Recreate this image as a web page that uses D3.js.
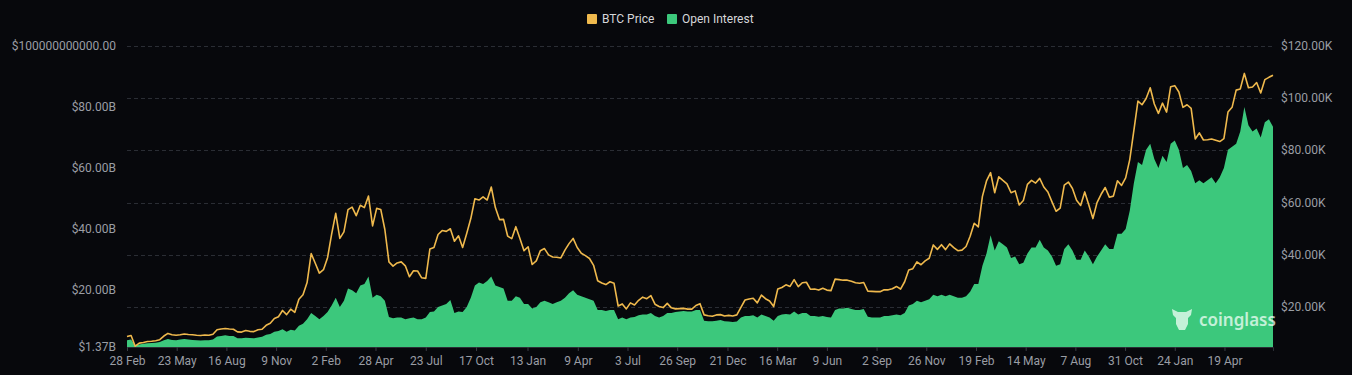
<!DOCTYPE html>
<html lang="en">
  <head>
    <meta charset="UTF-8">
    <title>BTC Price vs Open Interest</title>
    <script src="https://cdn.jsdelivr.net/npm/d3@7"></script>
    <style>
      html, body {
        margin: 0;
        padding: 0;
        background: #07080c;
      }
      body {
        font-family: Roboto, 'Noto Sans', Arial, sans-serif;
      }
      svg {
        display: block;
      }
    </style>
  </head>
  <body>
    <svg id="chart" width="1352" height="375"></svg>
    <script>
      // weekly samples (Fridays) starting 28 Feb 2020, last one is the chart end
      const startDate = "2020-02-28";
      const stepDays = 7;

      // BTC price, thousands of USD
      const price2020 = [8.7, 9.1, 5.0, 6.2, 6.4, 6.8, 6.9, 7.1, 7.5, 8.9, 9.9, 9.4, 9.2, 9.4, 9.7, 9.5, 9.4, 9.2, 9.1, 9.3, 9.2, 9.6, 11.3, 11.6, 11.8, 11.6, 11.5, 10.5, 10.4, 11.0, 10.7, 10.6, 11.3, 11.5, 13.0, 13.8, 15.6, 16.3, 18.7, 17.1, 19.2, 18.0, 23.0, 24.7];
      const price2021 = [29.4, 40.5, 36.8, 33.0, 34.3, 38.9, 47.9, 55.9, 46.3, 48.8, 57.3, 58.3, 55.0, 59.0, 58.1, 62.5, 51.1, 57.8, 57.4, 49.7, 37.3, 35.7, 36.9, 37.3, 35.8, 31.6, 33.9, 33.8, 31.2, 31.0, 42.2, 42.8, 47.8, 49.3, 49.0, 50.0, 45.2, 47.3, 42.8, 48.2, 53.9, 61.5, 61.0, 62.2, 61.0, 66.0, 58.1, 53.5, 53.6, 47.2, 46.2, 50.8, 46.3];
      const price2022 = [41.6, 43.1, 36.3, 37.7, 41.6, 42.4, 40.0, 39.2, 39.1, 38.8, 41.8, 44.3, 46.3, 42.8, 40.6, 39.7, 38.6, 36.0, 30.1, 29.2, 28.6, 29.7, 29.1, 20.4, 21.2, 19.3, 21.6, 20.8, 22.6, 23.8, 23.2, 24.4, 21.1, 20.2, 19.8, 21.4, 19.7, 19.3, 19.4, 19.5, 19.2, 19.2, 20.6, 21.3, 17.0, 16.7, 16.5, 17.0, 17.1, 16.6, 16.8, 16.6];
      const price2023 = [17.0, 19.9, 22.7, 23.1, 23.4, 21.6, 24.6, 23.2, 22.3, 20.2, 26.9, 27.5, 28.5, 27.9, 30.5, 27.8, 29.3, 29.5, 26.8, 26.9, 26.5, 27.2, 26.5, 26.3, 30.7, 30.5, 30.3, 30.3, 29.9, 29.3, 29.1, 29.4, 26.1, 26.0, 25.9, 25.9, 26.6, 26.6, 27.0, 27.9, 26.9, 29.7, 34.2, 34.7, 37.3, 36.2, 37.7, 38.7, 43.8, 42.1, 43.9, 42.0];
      const price2024 = [44.2, 42.8, 41.6, 41.8, 43.2, 47.1, 52.1, 50.7, 62.4, 68.3, 71.5, 63.8, 69.9, 68.5, 67.2, 63.8, 64.5, 59.1, 60.8, 67.0, 68.5, 67.5, 69.3, 66.0, 64.1, 60.3, 56.7, 57.9, 66.7, 67.9, 65.4, 60.9, 58.9, 64.1, 59.1, 53.9, 60.0, 63.2, 65.8, 62.1, 62.5, 68.4, 66.6, 69.5, 76.5, 87.6, 98.9, 97.5, 99.9, 104.0, 97.8, 94.2];
      const price2025 = [98.1, 94.7, 104.4, 104.8, 102.4, 96.5, 97.5, 96.1, 84.4, 86.7, 84.0, 84.1, 84.4, 83.9, 83.4, 84.5, 94.7, 96.5, 103.1, 103.5, 109.5, 104.0, 104.3, 106.0, 102.0, 107.1, 108.0, 108.8];

      // open interest, billions of USD
      const oi2020 = [3.6, 3.8, 1.9, 2.2, 2.4, 2.6, 2.7, 2.8, 3.0, 3.6, 4.0, 3.7, 3.6, 3.8, 4.0, 3.8, 3.7, 3.6, 3.5, 3.6, 3.6, 3.8, 4.8, 5.0, 5.2, 5.0, 5.0, 4.2, 4.2, 4.4, 4.3, 4.2, 4.5, 4.7, 5.4, 5.6, 6.4, 6.6, 7.2, 6.4, 7.0, 6.8, 8.3, 9.0];
      const oi2021 = [10.5, 12.5, 11.5, 10.5, 11.5, 12.8, 15.0, 17.5, 14.5, 16.5, 20.5, 20.0, 19.0, 21.5, 22.0, 24.5, 17.5, 18.5, 18.0, 16.5, 11.2, 10.8, 11.0, 11.0, 10.5, 10.8, 11.0, 10.5, 10.5, 11.0, 12.8, 13.0, 14.5, 15.0, 15.5, 16.8, 12.5, 13.0, 12.8, 14.5, 17.5, 21.5, 22.5, 22.0, 23.0, 24.5, 21.5, 21.0, 20.5, 16.5, 16.5, 18.0, 17.5];
      const oi2022 = [15.5, 15.5, 14.0, 14.5, 16.0, 16.5, 16.0, 15.5, 16.0, 16.5, 17.5, 19.0, 20.0, 18.5, 18.0, 17.5, 17.0, 16.5, 13.5, 13.5, 13.2, 13.5, 13.5, 10.5, 11.0, 10.5, 11.0, 11.2, 11.8, 12.0, 12.0, 12.5, 11.5, 11.0, 11.5, 12.5, 12.5, 12.8, 13.0, 13.2, 13.0, 13.0, 13.5, 13.5, 10.0, 9.8, 9.8, 10.0, 10.2, 9.8, 9.7, 9.6];
      const oi2023 = [9.7, 11.0, 11.5, 11.5, 11.8, 11.0, 12.0, 11.5, 11.0, 10.0, 11.5, 12.0, 12.2, 12.0, 13.0, 12.0, 12.5, 12.5, 11.5, 11.5, 11.3, 11.5, 11.2, 11.0, 13.5, 14.0, 14.0, 14.2, 13.8, 13.5, 13.5, 13.8, 11.3, 11.0, 11.0, 11.0, 11.5, 11.5, 11.8, 12.0, 11.8, 12.5, 15.0, 15.5, 16.5, 16.0, 16.5, 17.0, 18.5, 18.0, 18.5, 18.0];
      const oi2024 = [18.5, 18.0, 17.5, 17.5, 18.0, 19.5, 22.0, 22.0, 28.0, 32.0, 38.0, 33.0, 36.0, 35.0, 34.0, 30.5, 31.0, 28.5, 29.0, 32.0, 34.0, 34.0, 36.5, 34.0, 33.0, 31.0, 28.0, 28.5, 33.5, 35.0, 33.0, 30.0, 30.0, 33.0, 31.0, 28.5, 31.0, 33.0, 35.0, 33.5, 33.5, 38.5, 38.5, 40.0, 46.0, 55.0, 62.0, 61.0, 66.0, 68.0, 63.0, 60.0];
      const oi2025 = [64, 62, 68, 69, 66, 60, 61, 59, 55, 56, 55, 56, 57, 55, 57, 60, 66, 67, 68, 72, 80, 74, 72, 73, 70, 75, 76, 73.5];

      const xTickDates = ["2020-02-28", "2020-05-23", "2020-08-16", "2020-11-09", "2021-02-02", "2021-04-28", "2021-07-23", "2021-10-17", "2022-01-13", "2022-04-09", "2022-07-03", "2022-09-26", "2022-12-21", "2023-03-16", "2023-06-09", "2023-09-02", "2023-11-26", "2024-02-19", "2024-05-14", "2024-08-07", "2024-10-31", "2025-01-24", "2025-04-19"];
      const leftTicks = [1.37, 20, 40, 60, 80, 100];
      const leftTickLabels = ["$1.37B", "$20.00B", "$40.00B", "$60.00B", "$80.00B", "$100000000000.00"];
      const rightTicks = [20, 40, 60, 80, 100, 120];
      const rightTickLabels = ["$20.00K", "$40.00K", "$60.00K", "$80.00K", "$100.00K", "$120.00K"];

      const colors = { price: "#efb94d", oi: "#3cc87c", grid: "#2a2d34", text: "#9a9da4" };
      const plot = { left: 127, right: 1273, top: 46, bottom: 347 };

      const parse = d3.utcParse("%Y-%m-%d");
      const prices = [...price2020, ...price2021, ...price2022, ...price2023, ...price2024, ...price2025];
      const interest = [...oi2020, ...oi2021, ...oi2022, ...oi2023, ...oi2024, ...oi2025];
      const data = prices.map((p, i) => ({
        date: d3.utcDay.offset(parse(startDate), i * stepDays),
        price: p,
        oi: interest[i]
      }));

      const svg = d3.select("#chart");

      const x = d3.scaleUtc()
        .domain([data[0].date, data[data.length - 1].date])
        .range([plot.left, plot.right]);
      const yLeft = d3.scaleLinear().domain([1.37, 100]).range([plot.bottom, plot.top]);
      const yRight = d3.scaleLinear().domain([4.7, 120]).range([plot.bottom, plot.top]);

      function renderGrid() {
        svg.append("g")
          .selectAll("line")
          .data(rightTicks)
          .enter()
          .append("line")
          .attr("x1", plot.left)
          .attr("x2", plot.right)
          .attr("y1", d => Math.round(yRight(d)) + 0.5)
          .attr("y2", d => Math.round(yRight(d)) + 0.5)
          .attr("stroke", colors.grid)
          .attr("stroke-dasharray", "4,3");
      }

      function renderSeries() {
        const area = d3.area()
          .x(d => x(d.date))
          .y0(yLeft(1.37))
          .y1(d => yLeft(d.oi));
        svg.append("path")
          .datum(data)
          .attr("d", area)
          .attr("fill", colors.oi);

        const line = d3.line()
          .x(d => x(d.date))
          .y(d => yRight(d.price));
        svg.append("path")
          .datum(data)
          .attr("d", line)
          .attr("fill", "none")
          .attr("stroke", colors.price)
          .attr("stroke-width", 1.6)
          .attr("stroke-linejoin", "round");
      }

      function renderAxes() {
        const xAxis = d3.axisBottom(x)
          .tickValues(xTickDates.map(parse))
          .tickFormat(d3.utcFormat("%-d %b"))
          .tickSize(4)
          .tickPadding(5);
        const gx = svg.append("g")
          .attr("transform", `translate(0, ${plot.bottom})`)
          .call(xAxis);
        gx.select(".domain").attr("stroke", colors.grid);
        gx.selectAll(".tick line").attr("stroke", "#3a3d44");
        gx.selectAll("text")
          .attr("fill", colors.text)
          .attr("font-size", 12)
          .attr("font-family", "Roboto, sans-serif");

        svg.append("g")
          .selectAll("text")
          .data(leftTicks)
          .enter()
          .append("text")
          .attr("x", 116)
          .attr("y", d => yLeft(d) + 4)
          .attr("text-anchor", "end")
          .attr("fill", colors.text)
          .attr("font-size", 12)
          .text((d, i) => leftTickLabels[i]);

        svg.append("g")
          .selectAll("text")
          .data(rightTicks)
          .enter()
          .append("text")
          .attr("x", 1281)
          .attr("y", d => yRight(d) + 4)
          .attr("fill", colors.text)
          .attr("font-size", 12)
          .text((d, i) => rightTickLabels[i]);
      }

      function renderLegend() {
        const items = [
          { label: "BTC Price", color: colors.price, x: 587 },
          { label: "Open Interest", color: colors.oi, x: 667 }
        ];
        const g = svg.append("g");
        g.selectAll("rect")
          .data(items)
          .enter()
          .append("rect")
          .attr("x", d => d.x)
          .attr("y", 14)
          .attr("width", 10)
          .attr("height", 10)
          .attr("rx", 1)
          .attr("fill", d => d.color);
        g.selectAll("text")
          .data(items)
          .enter()
          .append("text")
          .attr("x", d => d.x + 15)
          .attr("y", 23)
          .attr("fill", "#d6d7da")
          .attr("font-size", 12)
          .text(d => d.label);
      }

      function renderWatermark() {
        const g = svg.append("g").attr("opacity", 0.75);
        g.append("path")
          .attr("transform", "translate(1182, 320)")
          .attr("d", "M-10,-11 L-4,-8 L4,-8 L10,-11 L9,-5 L6,-2 L6,4 L3,10 L-3,10 L-6,4 L-6,-2 L-9,-5 Z")
          .attr("fill", "#f2fff7");
        g.append("text")
          .attr("x", 1199)
          .attr("y", 326)
          .attr("fill", "#f2fff7")
          .attr("font-size", 17)
          .attr("font-weight", 600)
          .attr("font-family", "'Noto Sans', sans-serif")
          .text("coinglass");
      }

      renderGrid();
      renderSeries();
      renderAxes();
      renderLegend();
      renderWatermark();
    </script>
  </body>
</html>
